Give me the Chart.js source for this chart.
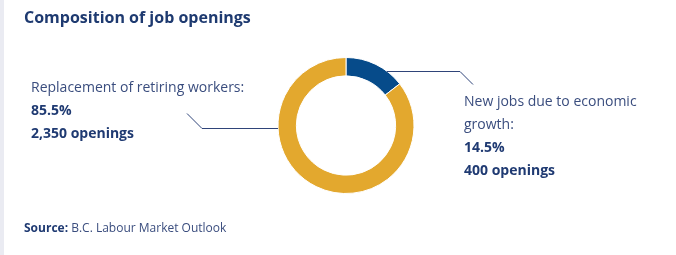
<!DOCTYPE html>
<html>
<head>
<meta charset="utf-8">
<script src="https://cdn.jsdelivr.net/npm/chart.js@4/dist/chart.umd.min.js"></script>
<style>
  html, body { margin: 0; padding: 0; background: #fff; }
  body { width: 676px; height: 255px; position: relative; overflow: hidden; font-family: "Open Sans", sans-serif; color: #1f3a72; }
  .strip { position: absolute; left: 0; top: 0; width: 4px; height: 255px; background: #eaebf2; }
  #chart { position: absolute; left: 0; top: 0; }
  .txt { position: absolute; white-space: nowrap; }
  .title { left: 24px; top: 5px; font-size: 16px; font-weight: 700; line-height: 24px; color: #1e3a70; }
  .lbl { font-size: 14px; line-height: 23px; }
  .lbl .reg { color: #3a4d7e; }
  .lbl b { font-weight: 700; color: #1f3a72; }
  .left { left: 31px; top: 75px; }
  .right { left: 464px; top: 89px; white-space: normal; width: 190px; }
  .source { left: 24px; top: 218px; font-size: 12px; line-height: 20px; color: #3a4d7e; }
  .source b { color: #1f3a72; }
</style>
</head>
<body>
<div class="strip"></div>
<canvas id="chart" width="676" height="255"></canvas>
<div class="txt title">Composition of job openings</div>
<div class="txt lbl left" id="lblLeft"></div>
<div class="txt lbl right" id="lblRight"></div>
<div class="txt source"><b>Source:</b> B.C. Labour Market Outlook</div>

<script>
// data
const categories = ['New jobs due to economic growth', 'Replacement of retiring workers'];
const shares = [14.5, 85.5];
const openings = [400, 2350];
const colors = ['#064b8a', '#e3a82e'];

// labels
function labelHtml(i) {
    return '<div class="reg">' + categories[i] + ':</div>' +
        '<b>' + shares[i] + '%</b><br>' +
        '<b>' + openings[i].toLocaleString('en-US') + ' openings</b>';
}
document.getElementById('lblLeft').innerHTML = labelHtml(1);
document.getElementById('lblRight').innerHTML = labelHtml(0);

// leader lines, drawn relative to the ring's centre and radius
const leaderLines = {
    id: 'leaderLines',
    afterDatasetsDraw(chart) {
        const arc = chart.getDatasetMeta(0).data[0];
        if (!arc) return;
        const cx = arc.x, cy = arc.y, r = arc.outerRadius;
        const ctx = chart.ctx;
        ctx.save();
        ctx.strokeStyle = '#2f4479';
        ctx.lineWidth = 1;

        // right: from the blue slice out to the right label
        let y = Math.round(cy - 0.8 * r) + 0.5;
        let x0 = cx + Math.sqrt(r * r - (0.8 * r) * (0.8 * r));
        ctx.beginPath();
        ctx.moveTo(x0, y);
        ctx.lineTo(cx + 114, y);
        ctx.lineTo(cx + 127, y + 13);
        ctx.stroke();

        // left: from the gold ring out to the left label
        y = Math.round(cy + 2) + 0.5;
        ctx.beginPath();
        ctx.moveTo(cx - r, y);
        ctx.lineTo(cx - 144, y);
        ctx.lineTo(cx - 159, y - 15);
        ctx.stroke();
        ctx.restore();
    }
};

new Chart(document.getElementById('chart'), {
    type: 'doughnut',
    data: {
        labels: categories,
        datasets: [{
            data: shares,
            backgroundColor: colors,
            borderColor: '#ffffff',
            borderWidth: 1
        }]
    },
    options: {
        responsive: false,
        animation: false,
        cutout: '73%',
        layout: { padding: { left: 277, right: 261, top: 57, bottom: 61 } },
        plugins: {
            legend: { display: false },
            tooltip: { enabled: false }
        }
    },
    plugins: [leaderLines]
});
</script>
</body>
</html>
